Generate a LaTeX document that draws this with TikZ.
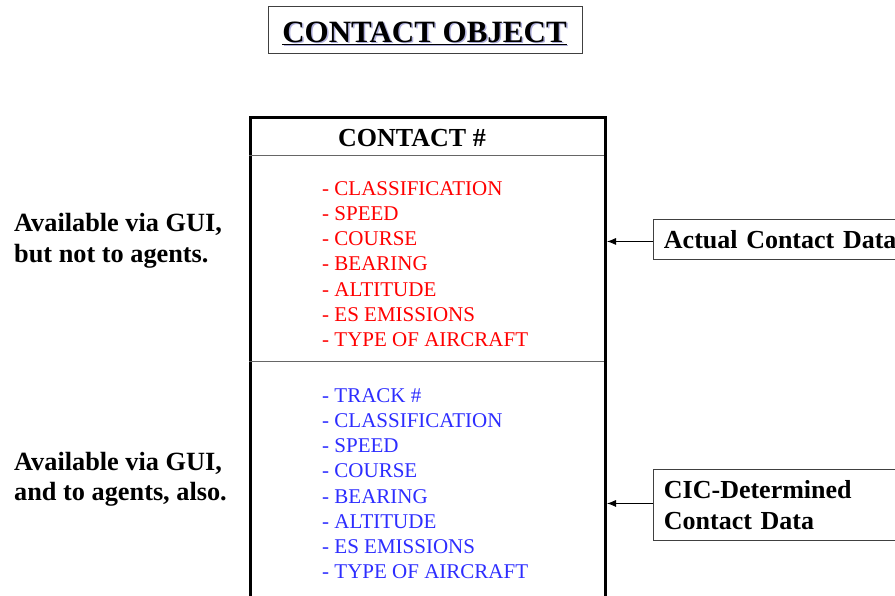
\documentclass[tikz,border=0pt]{standalone}
\usepackage{fontspec}
\setmainfont{Liberation Serif}
\usetikzlibrary{arrows.meta}
\definecolor{listred}{RGB}{255,0,0}
\definecolor{listblue}{RGB}{45,45,255}
\definecolor{shadowc}{RGB}{175,175,220}
\begin{document}
\begin{tikzpicture}[x=1pt,y=-1pt,
  lbl/.style={inner sep=0pt, anchor=base west, font=\fontsize{26.3}{31}\selectfont\bfseries},
  item/.style={inner sep=0pt, anchor=base west, font=\fontsize{21}{25}\selectfont},
  databox/.style={draw=black!75, line width=0.9pt, anchor=north west, inner xsep=10pt, inner ysep=0pt,
    align=left, text width=222pt, minimum width=243pt, font=\fontsize{26}{31}\selectfont\bfseries},
  feed/.style={-{Latex[length=9pt,width=7pt]}, line width=0.8pt}]
\useasboundingbox (0,0) rectangle (895,595);
% title
\node (titlebox) [draw=black!75, line width=1pt, minimum width=314pt, minimum height=47pt, inner sep=0pt] at (425,29.5) {};
\node (titleshadow) [inner sep=0pt, anchor=base, text=shadowc, font=\fontsize{31}{36}\selectfont\bfseries] at (426,43.5) {\underline{CONTACT OBJECT}};
\node (title) [inner sep=0pt, anchor=base, font=\fontsize{31}{36}\selectfont\bfseries] at (424.5,42) {\underline{CONTACT OBJECT}};
% main box
\node (contact) [draw, line width=3pt, minimum width=355pt, minimum height=520pt, anchor=north west, inner sep=0pt] at (249,116) {};
\draw[black!60, line width=1pt] (249,155.5) -- (604,155.5);
\draw[black!60, line width=1pt] (249,361) -- (604,361);
\node (header) [inner sep=0pt, anchor=base, font=\fontsize{26}{31}\selectfont\bfseries] at (412,146.5) {CONTACT \#};
% red list
\foreach \t [count=\i from 0] in {CLASSIFICATION,SPEED,COURSE,BEARING,ALTITUDE,ES EMISSIONS,TYPE OF AIRCRAFT}{
  \node (r\i) [item, text=listred] at (322,195+25.3*\i) {- \t};
}
% blue list
\foreach \t [count=\i from 0] in {TRACK \#,CLASSIFICATION,SPEED,COURSE,BEARING,ALTITUDE,ES EMISSIONS,TYPE OF AIRCRAFT}{
  \node (b\i) [item, text=listblue] at (322,402+25.25*\i) {- \t};
}
% left labels
\node (l1a) [lbl] at (14,231) {Available via GUI,};
\node (l1b) [lbl] at (14,262) {but not to agents.};
\node (l2a) [lbl] at (14,470) {Available via GUI,};
\node (l2b) [lbl] at (14,500.5) {and to agents, also.};
% right boxes
\node (actual) [databox, minimum height=40pt] at (653,219) {\mbox{Actual Contact Data}};
\node (cic) [databox, minimum height=71pt] at (653,469) {CIC-Determined\\[0pt]Contact Data};
\draw[feed] ([yshift=-2pt]actual.west) -- ([yshift=-2pt]actual.west -| contact.east);
\draw[feed] ([yshift=1.5pt]cic.west) -- ([yshift=1.5pt]cic.west -| contact.east);
\end{tikzpicture}
\end{document}
